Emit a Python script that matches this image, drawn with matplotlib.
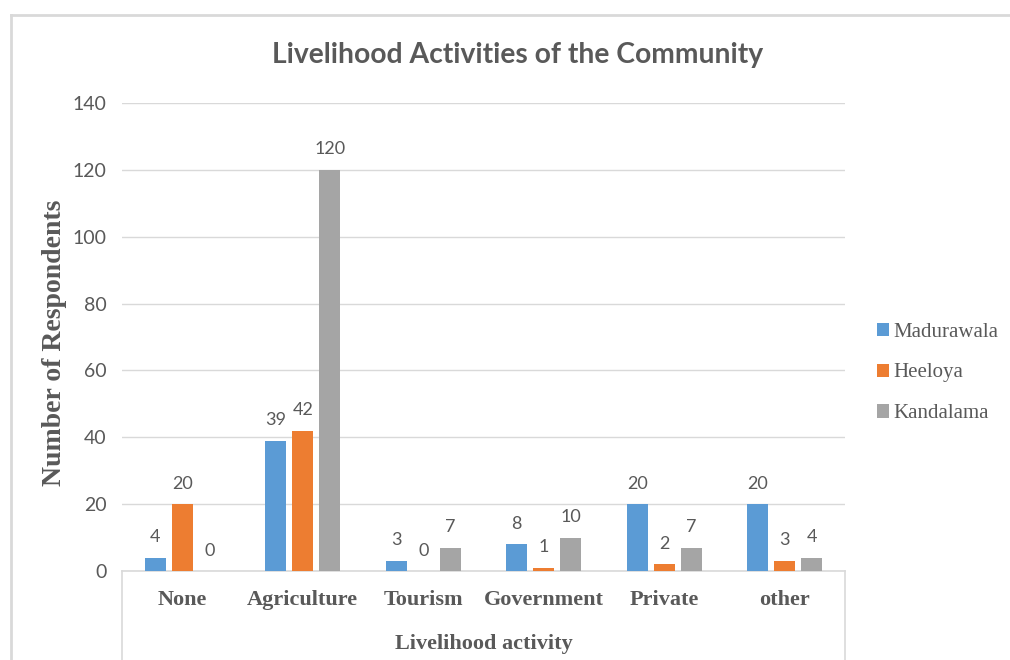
import matplotlib.pyplot as plt
import numpy as np
from matplotlib.patches import Patch
from matplotlib.lines import Line2D

# 数据
categories = ['None', 'Agriculture', 'Tourism', 'Government', 'Private', 'other']
madurawala = [4, 39, 3, 8, 20, 20]
heeloya = [20, 42, 0, 1, 2, 3]
kandalama = [0, 120, 7, 10, 7, 4]
series_names = ['Madurawala', 'Heeloya', 'Kandalama']
colors = ['#5B9BD5', '#ED7D31', '#A5A5A5']
y_ticks = [0, 20, 40, 60, 80, 100, 120, 140]

W, H = 1010, 660
grey_txt = '#595959'
line_col = '#D9D9D9'
sans = ['Lato', 'DejaVu Sans']
serif = ['Liberation Serif', 'DejaVu Serif']

fig = plt.figure(figsize=(W / 100, H / 100), dpi=100)
ax = fig.add_axes([122 / W, (H - 571) / H, 723 / W, 468 / H])

x = np.arange(len(categories))
bw = 0.174
step = 0.224
for i, (vals, c, name) in enumerate(zip([madurawala, heeloya, kandalama], colors, series_names)):
    pos = x + (i - 1) * step
    ax.bar(pos, vals, width=bw, color=c, label=name, zorder=3)
    for p, v in zip(pos, vals):
        ax.annotate(str(v), (p, v), xytext=(0, 9), textcoords='offset points',
                    ha='center', va='bottom', fontsize=13, color=grey_txt,
                    family=sans)

ax.set_xlim(-0.5, len(categories) - 0.5)
ax.set_ylim(0, 140)
ax.set_yticks(y_ticks)
ax.set_yticklabels([str(t) for t in y_ticks], family=sans, fontsize=14, color=grey_txt)
ax.set_xticks(x)
ax.set_xticklabels(categories, family=serif, fontsize=16, fontweight='bold', color=grey_txt)
ax.tick_params(axis='both', length=0)
ax.tick_params(axis='y', pad=11)
ax.tick_params(axis='x', pad=14)
ax.grid(axis='y', color=line_col, linewidth=1, zorder=0)
for s in ['top', 'right', 'left']:
    ax.spines[s].set_visible(False)
ax.spines['bottom'].set_color(line_col)
ax.spines['bottom'].set_linewidth(1.2)

ax.set_xlabel('Livelihood activity', family=serif, fontsize=16, fontweight='bold',
              color=grey_txt, labelpad=17)
ax.set_ylabel('Number of Respondents', family=serif, fontsize=20, fontweight='bold',
              color=grey_txt)
ax.yaxis.set_label_coords((67 - 122) / 723, (571 - 343) / 468)

# 分类轴下方的竖线
bottom = -(H - 571) / 468
for xv in (0, 1):
    ax.add_line(Line2D([xv, xv], [0, bottom], transform=ax.transAxes, color=line_col,
                       linewidth=1.2, clip_on=False))

# 外边框
fig.add_artist(Line2D([11 / W, 1], [1 - 15 / H, 1 - 15 / H], transform=fig.transFigure,
                      color=line_col, linewidth=2))
fig.add_artist(Line2D([11 / W, 11 / W], [0, 1 - 15 / H], transform=fig.transFigure,
                      color=line_col, linewidth=2))

fig.text(518 / W, 1 - 55 / H, 'Livelihood Activities of the Community', ha='center',
         va='center', fontsize=20.3, fontweight='bold', color=grey_txt, family=sans)

handles = [Patch(facecolor=c, label=n) for c, n in zip(colors, series_names)]
fig.legend(handles=handles, loc='center left', bbox_to_anchor=(858 / W, 1 - 373 / H),
           frameon=False, prop={'family': 'Liberation Serif', 'size': 15},
           handlelength=0.6, handleheight=0.6, handletextpad=0.2, labelspacing=1.05,
           labelcolor=grey_txt)

plt.savefig('out.png', dpi=100)
